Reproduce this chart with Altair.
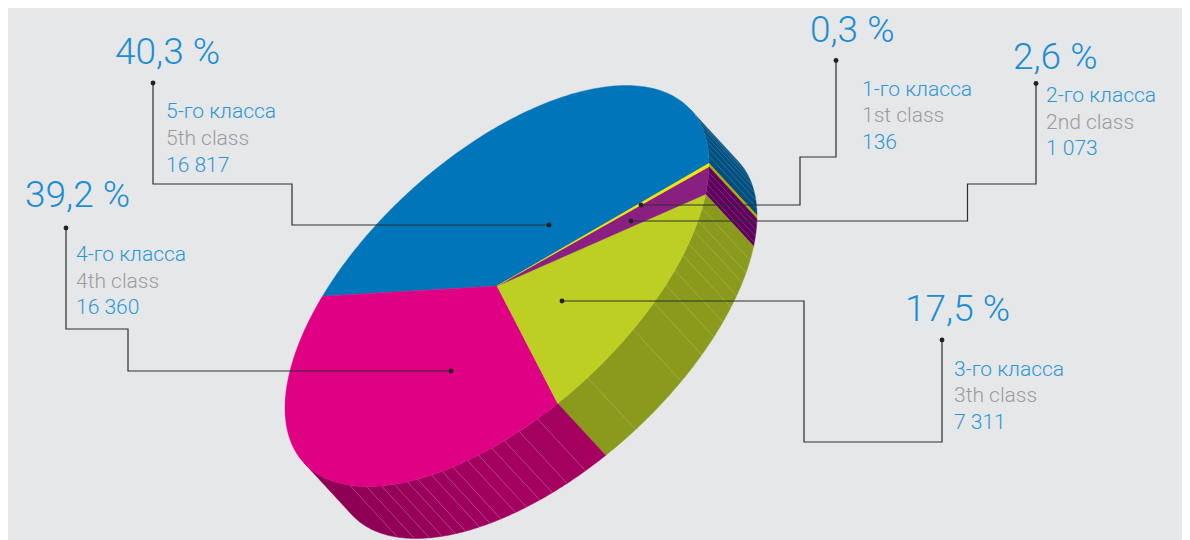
import altair as alt
import numpy as np
import pandas as pd

# ---- data ----
classes_ru = ["1-го класса", "2-го класса", "3-го класса", "4-го класса", "5-го класса"]
classes_en = ["1st class", "2nd class", "3th class", "4th class", "5th class"]
counts = [136, 1073, 7311, 16360, 16817]
count_labels = ["136", "1 073", "7 311", "16 360", "16 817"]
percent_labels = ["0,3 %", "2,6 %", "17,5 %", "39,2 %", "40,3 %"]

# ---- styles ----
BG = "#e6e7e9"
top_colors = ["#f2e500", "#8a1f82", "#bccf22", "#e00083", "#0075ba"]
side_colors = ["#b5ab00", "#5f005c", "#8a9a1d", "#a30060", "#004f80"]
magenta_side_dark = "#83004e"
BLUE_BIG = "#1b8ed2"
BLUE_TXT = "#2c97d6"
GREY_TXT = "#9a9b9d"
LINE = "#2e2e30"

# ---- layout of the tilted disc (picture pixels) ----
CX, CY = 497.0, 286.0
AX, BX, BY = 212.0, -122.08, 159.05
DEPTH = (48.0, 52.0)
START_DEG = -0.2
SIL_DEG = -24.3   # silhouette of the side, back end
SIL2_DEG = 155.7  # silhouette of the side, front end

# ---- places where facet lines meet the rim, degrees round the disc ----
hatch_deg = [-21, -18, -15, -12, -9, -6, -3,
             3, 5, 7, 9,
             14.7, 18.5, 21.5, 25.3, 28.7, 33, 37.2, 42.3, 50, 64.7,
             79, 84, 88, 91.4, 95, 98, 102, 105, 108, 112, 115, 119, 123, 128, 134]
magenta_facets = [79, 84, 88, 91.4, 95, 98, 102, 105, 108, 112, 115, 119, 123, 128, 134]

# ---- label places (picture pixels) ----
pct_x = [810, 1013, 905, 25, 115]
pct_y = [42, 69, 321, 207, 64]
lab_x = [862, 1046, 954, 76, 166]
lab_y1 = [96, 102, 376, 261, 118]
lab_y2 = [122, 128.5, 402, 288, 145]
lab_y3 = [149, 154.5, 429, 314, 172]

# leader lines, start dot first and slice dot last
leader_x = [[836, 836, 800, 800, 641],
            [1036, 1036, 967.5, 967.5, 631],
            [942, 942, 804, 804, 562],
            [66, 66, 128, 128, 451],
            [153, 153, 292, 292, 549]]
leader_y = [[60.5, 157, 157, 205, 205],
            [83.5, 184, 184, 221, 221],
            [340, 442, 442, 301, 301],
            [228, 329, 329, 371, 371],
            [83, 184, 184, 225, 225]]


def rim(deg):
    t = np.radians(np.asarray(deg, dtype=float))
    return CX + AX * np.cos(t), CY + BX * np.cos(t) + BY * np.sin(t)


def arc_deg(a, b):
    n = max(2, int(abs(b - a) / 1.0) + 2)
    return np.linspace(a, b, n)


shares = np.array(counts, dtype=float) / sum(counts) * 360.0
edges = START_DEG + np.concatenate([[0.0], np.cumsum(shares)])

polys = []


def add_poly(name, xs, ys, color):
    xs = list(xs) + [xs[0]]
    ys = list(ys) + [ys[0]]
    for i, (x, y) in enumerate(zip(xs, ys)):
        polys.append({"id": name, "i": i, "x": float(x), "y": float(y), "color": color})


def add_side(name, a, b, color):
    d = arc_deg(a, b)
    x, y = rim(d)
    add_poly(name, list(x) + list(x[::-1] + DEPTH[0]), list(y) + list(y[::-1] + DEPTH[1]), color)


def mix(c1, c2, f):
    a = [int(c1[i:i + 2], 16) for i in (1, 3, 5)]
    b = [int(c2[i:i + 2], 16) for i in (1, 3, 5)]
    return "#" + "".join(f"{round(p + (q - p) * f):02x}" for p, q in zip(a, b))


# sides
add_side("s0_blue", SIL_DEG, edges[0], side_colors[4])
add_side("s1_yellow", edges[0], edges[1], side_colors[0])
add_side("s2_purple", edges[1], edges[2], side_colors[1])
add_side("s3_olive", edges[2], edges[3], side_colors[2])
bounds = [edges[3]] + magenta_facets + [SIL2_DEG]
for k in range(len(bounds) - 1):
    f = max(0.0, (bounds[k] - 95.0) / (SIL2_DEG - 95.0))
    add_side(f"s4_m{k:02d}", bounds[k], bounds[k + 1], mix(side_colors[3], magenta_side_dark, f))

# tops, biggest first so that the thin slices lie above
for idx in [4, 3, 2, 1, 0]:
    d = arc_deg(edges[idx], edges[idx + 1])
    x, y = rim(d)
    add_poly(f"t{4 - idx}", [CX] + list(x), [CY] + list(y), top_colors[idx])

poly_df = pd.DataFrame(polys)

hx, hy = rim(hatch_deg)
hatch_df = pd.DataFrame({"x": hx, "y": hy, "x2": hx + DEPTH[0], "y2": hy + DEPTH[1]})

lead_rows = []
for n, (xs, ys) in enumerate(zip(leader_x, leader_y)):
    for i, (x, y) in enumerate(zip(xs, ys)):
        lead_rows.append({"id": n, "i": i, "x": x, "y": y})
lead_df = pd.DataFrame(lead_rows)
dot_df = pd.DataFrame(
    [{"x": xs[0], "y": ys[0]} for xs, ys in zip(leader_x, leader_y)]
    + [{"x": xs[-1], "y": ys[-1]} for xs, ys in zip(leader_x, leader_y)]
)

big_df = pd.DataFrame({"x": pct_x, "y": pct_y, "t": percent_labels})
small_rows = []
for j in range(5):
    small_rows.append({"x": lab_x[j], "y": lab_y1[j], "t": classes_ru[j], "c": BLUE_TXT})
    small_rows.append({"x": lab_x[j], "y": lab_y2[j], "t": classes_en[j], "c": GREY_TXT})
    small_rows.append({"x": lab_x[j], "y": lab_y3[j], "t": count_labels[j], "c": BLUE_TXT})
small_df = pd.DataFrame(small_rows)

X = alt.X("x:Q", scale=alt.Scale(domain=[8, 1182], nice=False, zero=False), axis=None)
Y = alt.Y("y:Q", scale=alt.Scale(domain=[540, 8], nice=False, zero=False), axis=None)

shapes = alt.Chart(poly_df).mark_line(strokeWidth=0.4, filled=False, interpolate="linear").encode(
    x=X, y=Y, detail="id:N", order="i:Q",
    fill=alt.Fill("color:N", scale=None),
    stroke=alt.Stroke("color:N", scale=None),
)
hatch = alt.Chart(hatch_df).mark_rule(color="#ffffff", opacity=0.3, strokeWidth=0.6).encode(
    x=X, y=Y, x2="x2:Q", y2="y2:Q"
)
leaders = alt.Chart(lead_df).mark_line(color=LINE, strokeWidth=1.2).encode(
    x=X, y=Y, detail="id:N", order="i:Q"
)
dots = alt.Chart(dot_df).mark_point(filled=True, color="#222222", size=24, opacity=1).encode(x=X, y=Y)
big = alt.Chart(big_df).mark_text(
    font="Roboto", fontWeight=300, fontSize=37, align="left", baseline="alphabetic", color=BLUE_BIG
).encode(x=X, y=Y, text="t:N")
small = alt.Chart(small_df).mark_text(
    font="Roboto", fontWeight=300, fontSize=21, align="left", baseline="alphabetic"
).encode(x=X, y=Y, text="t:N", color=alt.Color("c:N", scale=None))

chart = (
    alt.layer(shapes, hatch, leaders, dots, big, small)
    .properties(width=1174, height=532, background=BG, padding=0)
    .configure_view(stroke=None)
)

chart.save("out.html", embed_options={"renderer": "svg", "actions": False})
